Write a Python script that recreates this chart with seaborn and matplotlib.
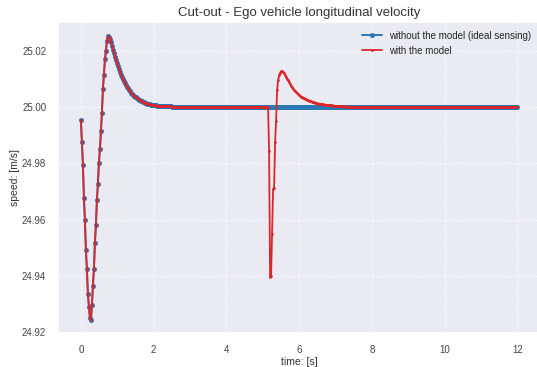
import numpy as np
import pandas as pd
import matplotlib
matplotlib.use("Agg")
import matplotlib.pyplot as plt
import seaborn as sns

# ---- data ----
t_end = 12.0
n_samples = 437
time = np.linspace(0.0, t_end, n_samples)

# shared transient (samples 0..90)
v_transient = [
    24.9954, 24.9876, 24.9796, 24.9678, 24.9600, 24.9492, 24.9424, 24.9335, 24.9290, 24.9251,
    24.9243, 24.9295, 24.9364, 24.9423, 24.9518, 24.9580, 24.9670, 24.9728, 24.9802, 24.9850,
    24.9915, 24.9980, 25.0066, 25.0115, 25.0170, 25.0200, 25.0236, 25.0252, 25.0250, 25.0243,
    25.0232, 25.0219, 25.0205, 25.0192, 25.0180, 25.0168, 25.0157, 25.0147, 25.0136, 25.0126,
    25.0116, 25.0107, 25.0099, 25.0092, 25.0086, 25.0079, 25.0073, 25.0067, 25.0061, 25.0056,
    25.0052, 25.0048, 25.0044, 25.0041, 25.0038, 25.0035, 25.0032, 25.0030, 25.0027, 25.0025,
    25.0023, 25.0021, 25.0019, 25.0018, 25.0016, 25.0015, 25.0013, 25.0012, 25.0011, 25.0010,
    25.0009, 25.0008, 25.0007, 25.0007, 25.0006, 25.0006, 25.0005, 25.0005, 25.0005, 25.0004,
    25.0004, 25.0004, 25.0004, 25.0004, 25.0004, 25.0004, 25.0004, 25.0004, 25.0004, 25.0004,
    25.0004,
]
v_settled = 25.0001

# model disturbance (samples 188..268)
v_model_dip = [
    24.9844, 24.9396, 24.9400, 24.9549, 24.9708, 24.9712, 24.9875, 24.9952, 25.0060, 25.0095,
    25.0113, 25.0122, 25.0127, 25.0128, 25.0124, 25.0120, 25.0114, 25.0108, 25.0102, 25.0096,
    25.0090, 25.0083, 25.0077, 25.0071, 25.0066, 25.0061, 25.0057, 25.0053, 25.0050, 25.0047,
    25.0044, 25.0041, 25.0038, 25.0036, 25.0034, 25.0032, 25.0030, 25.0028, 25.0026, 25.0025,
    25.0023, 25.0022, 25.0021, 25.0019, 25.0018, 25.0017, 25.0016, 25.0015, 25.0014, 25.0013,
    25.0012, 25.0012, 25.0011, 25.0010, 25.0010, 25.0009, 25.0009, 25.0008, 25.0008, 25.0007,
    25.0007, 25.0006, 25.0006, 25.0006, 25.0005, 25.0005, 25.0005, 25.0004, 25.0004, 25.0004,
    25.0004, 25.0003, 25.0003, 25.0003, 25.0003, 25.0003, 25.0002, 25.0002, 25.0002, 25.0002,
    25.0002,
]
dip_start = 188

labels = ["without the model (ideal sensing)", "with the model"]
title = "Cut-out - Ego vehicle longitudinal velocity"
xlabel = "time: [s]"
ylabel = "speed: [m/s]"
xticks = [0, 2, 4, 6, 8, 10, 12]
yticks = [24.92, 24.94, 24.96, 24.98, 25.00, 25.02]

# ---- assemble series ----
n_tr = len(v_transient)
v_ideal = v_transient + [v_settled] * (n_samples - n_tr)
n_after = n_samples - dip_start - len(v_model_dip)
v_model = (v_transient + [v_settled] * (dip_start - n_tr)
           + v_model_dip + [v_settled] * n_after)

df_ideal = pd.DataFrame({"time": time, "speed": v_ideal})
df_model = pd.DataFrame({"time": time, "speed": v_model})

# ---- plot ----
sns.set_theme(style="darkgrid")
plt.rcParams["font.family"] = ["Liberation Sans", "DejaVu Sans"]

fig = plt.figure(figsize=(5.37, 3.67), dpi=100)
ax = fig.add_axes([0.108, 0.093, 0.898, 0.847])

blue = "#2a78b6"
red = "#d9272b"
sns.lineplot(data=df_ideal, x="time", y="speed", ax=ax, sort=False, estimator=None,
             color=blue, linewidth=1.4, marker="o", markersize=3.2,
             markeredgecolor=blue, markeredgewidth=0.4, label=labels[0])
sns.lineplot(data=df_model, x="time", y="speed", ax=ax, sort=False, estimator=None,
             color=red, linewidth=1.3, marker=".", markersize=2.3,
             markeredgecolor=red, label=labels[1])

ax.set_title(title, fontsize=9.5, color="#333333", pad=4)
ax.set_xlabel(xlabel, fontsize=7.5, color="#333333", labelpad=2)
ax.set_ylabel(ylabel, fontsize=7.5, color="#333333", labelpad=1)
ax.tick_params(axis="both", labelsize=7, colors="#444444", pad=2.5)
ax.set_xticks(xticks)
ax.set_yticks(yticks)
ax.set_yticklabels([f"{v:.2f}" for v in yticks])
ax.set_xlim(-0.63, 12.63)
ax.set_ylim(24.9197, 25.0303)
ax.grid(True, color="white", linestyle="--", linewidth=0.6, alpha=0.8)
ax.legend(loc="upper right", frameon=False, fontsize=7, handlelength=2.0)

fig.savefig("out.png", dpi=100)
